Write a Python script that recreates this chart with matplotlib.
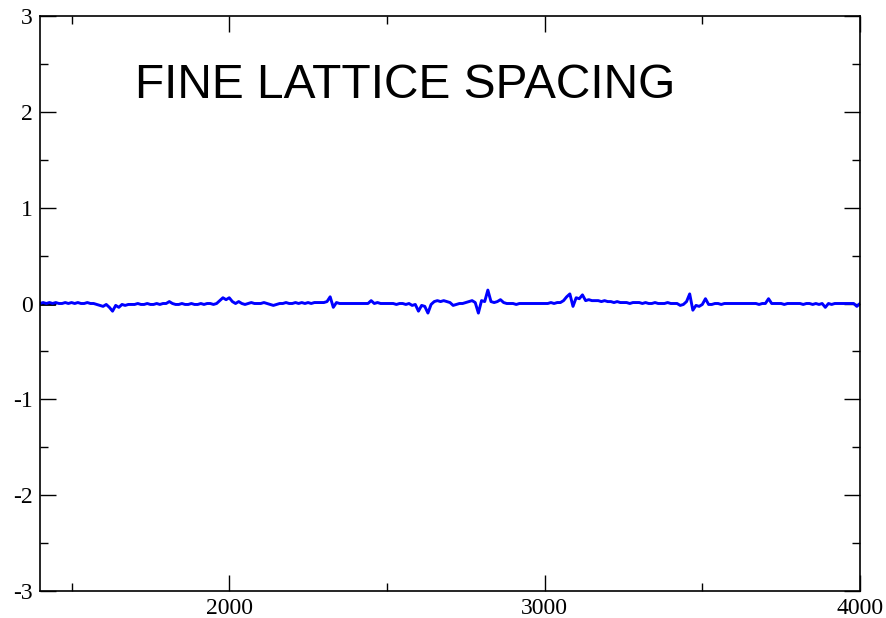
import numpy as np
import matplotlib.pyplot as plt
from matplotlib.ticker import MultipleLocator

plt.rcParams["axes.unicode_minus"] = False

# time series sampled every 10 steps, 1400..4000
t = np.arange(1400, 4001, 10)
y = [
    0.00, 0.01, 0.00, 0.01, 0.00, 0.01, 0.00, 0.00, 0.01, 0.00,
    0.01, 0.00, 0.01, 0.00, 0.00, 0.01, 0.00, 0.00, -0.01, -0.02,
    -0.03, -0.01, -0.04, -0.08, -0.02, -0.04, -0.01, -0.02, -0.01, -0.01,
    -0.01, 0.00, -0.01, -0.01, 0.00, -0.01, -0.01, 0.00, -0.01, 0.00,
    0.00, 0.02, 0.00, -0.01, -0.01, 0.00, -0.01, -0.01, 0.00, -0.01,
    -0.01, 0.00, -0.01, 0.00, 0.00, -0.01, 0.00, 0.03, 0.06, 0.04,
    0.06, 0.02, 0.00, 0.02, 0.00, -0.01, 0.00, 0.01, 0.00, 0.00,
    0.00, 0.01, 0.00, -0.01, -0.02, -0.01, 0.00, 0.00, 0.01, 0.00,
    0.00, 0.01, 0.00, 0.01, 0.00, 0.01, 0.00, 0.01, 0.01, 0.01,
    0.01, 0.02, 0.07, -0.04, 0.01, 0.00, 0.00, 0.00, 0.00, 0.00,
    0.00, 0.00, 0.00, 0.00, 0.00, 0.03, 0.00, 0.01, 0.00, 0.00,
    0.00, 0.00, 0.00, -0.01, 0.00, 0.00, -0.01, 0.00, -0.02, -0.01,
    -0.08, -0.02, -0.03, -0.10, -0.01, 0.02, 0.03, 0.02, 0.03, 0.02,
    0.01, -0.02, -0.01, 0.00, 0.00, 0.01, 0.02, 0.03, 0.01, -0.10,
    0.03, 0.02, 0.14, 0.02, 0.01, 0.02, 0.04, 0.01, 0.00, 0.00,
    0.00, -0.01, 0.00, 0.00, 0.00, 0.00, 0.00, 0.00, 0.00, 0.00,
    0.00, 0.00, 0.01, 0.00, 0.01, 0.01, 0.03, 0.07, 0.10, -0.03,
    0.06, 0.05, 0.09, 0.03, 0.04, 0.03, 0.03, 0.03, 0.02, 0.03,
    0.02, 0.02, 0.01, 0.02, 0.01, 0.01, 0.01, 0.00, 0.01, 0.01,
    0.01, 0.00, 0.01, 0.00, 0.00, 0.01, 0.00, 0.00, 0.00, 0.01,
    0.00, 0.00, 0.00, -0.02, -0.01, 0.02, 0.10, -0.07, -0.02, -0.03,
    -0.01, 0.05, -0.01, -0.01, 0.00, 0.00, -0.01, 0.00, 0.00, 0.00,
    0.00, 0.00, 0.00, 0.00, 0.00, 0.00, 0.00, 0.00, -0.01, 0.00,
    0.00, 0.05, 0.00, 0.00, 0.00, 0.00, -0.01, 0.00, 0.00, 0.00,
    0.00, 0.00, -0.01, 0.00, 0.00, -0.01, 0.00, -0.01, 0.00, -0.04,
    0.00, -0.01, 0.00, 0.00, 0.00, 0.00, 0.00, 0.00, 0.00, -0.03,
    0.00,
]

# short reference segment drawn under the start of the series
ref_t = [1400, 1445]
ref_y = [0.0, 0.0]

title = "FINE LATTICE SPACING"

fig = plt.figure(figsize=(8.87, 6.18), dpi=100)
ax = fig.add_axes([40 / 887, 1 - 591 / 618, 820 / 887, 575 / 618])

ax.plot(ref_t, ref_y, color="black", lw=2.0)
ax.plot(t, y, color="#0000ff", lw=2.1)

ax.set_xlim(1400, 4000)
ax.set_ylim(-3, 3)
ax.xaxis.set_major_locator(MultipleLocator(1000))
ax.xaxis.set_minor_locator(MultipleLocator(500))
ax.yaxis.set_major_locator(MultipleLocator(1))
ax.yaxis.set_minor_locator(MultipleLocator(0.5))

ax.tick_params(which="both", direction="in", top=True, right=True, width=1.0,
               labelsize=17, pad=5)
ax.tick_params(which="major", length=11.5)
ax.tick_params(which="minor", length=5.8)
for lab in ax.get_xticklabels() + ax.get_yticklabels():
    lab.set_family("Liberation Serif")
for s in ax.spines.values():
    s.set_linewidth(1.2)

ax.text(1702, 2.27, title, fontsize=34.5, family="Liberation Sans",
        ha="left", va="center")

fig.savefig("out.png", dpi=100)
